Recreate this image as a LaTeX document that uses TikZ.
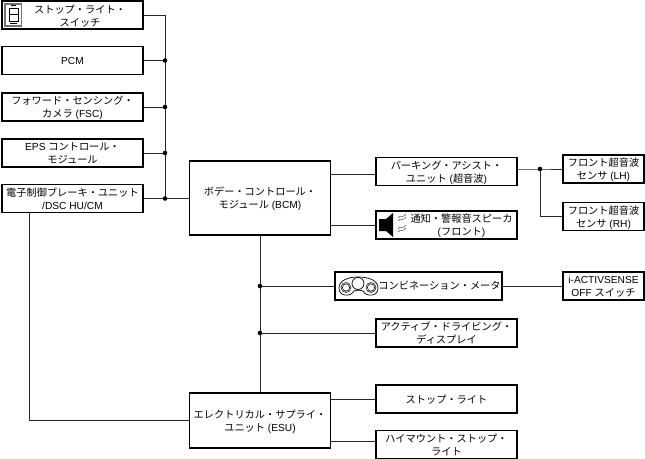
\documentclass[tikz,border=0pt]{standalone}
\usepackage{fontspec}
\setmainfont{Liberation Sans}
\newfontfamily\cjk{Noto Sans CJK JP}
\newcommand{\jp}[1]{{\cjk #1}}
\tikzset{
  unitbox/.style={
    draw=black,
    line width=1.05pt,
    fill=white,
    align=center,
    inner sep=0pt,
    text depth=0pt,
    minimum width=141pt,
    minimum height=28pt,
    font=\fontsize{10.2}{13}\selectfont,
  },
  sensorbox/.style={unitbox, minimum width=81pt},
  mainbox/.style={unitbox, minimum width=141pt},
  boxlabel/.style={align=center, inner sep=0pt, text depth=0pt, font=\fontsize{10.2}{13}\selectfont},
  wire/.style={line width=0.9pt, black!85},
  junction/.style={circle, fill=black, inner sep=0pt, minimum size=4.6pt},
  iconline/.style={line width=0.5pt, black},
}

\begin{document}
\begin{tikzpicture}[x=1pt, y=-1pt, line join=miter]
  \useasboundingbox (0,0) rectangle (645,458);

  \node[unitbox] (stopsw) at (72.5,15) {};
  \node[boxlabel] (stopswtext) at (80,15.5) {\jp{ストップ・ライト・}\\\jp{スイッチ}};
  \node[unitbox] (pcm) at (72.5,60.5) {PCM};
  \node[unitbox] (fsc) at (72.5,107) {\jp{フォワード・センシング・}\\\jp{カメラ} (FSC)};
  \node[unitbox] (eps) at (72.5,153) {EPS \jp{コントロール・}\\\jp{モジュール}};
  \node[unitbox] (ebcm) at (72.5,198.5) {\jp{電子制御ブレーキ・ユニット}\\/DSC HU/CM};
  \node[mainbox, minimum height=74pt] (bcm) at (260,198) {\jp{ボデー・コントロール・}\\\jp{モジュール} (BCM)};
  \node[unitbox] (park) at (446.5,171.5) {\jp{パーキング・アシスト・}\\\jp{ユニット} (\jp{超音波})};
  \node[unitbox] (spk) at (446.5,225) {};
  \node[boxlabel] (spktext) at (461.5,225) {\jp{通知・警報音スピーカ}\\(\jp{フロント})};
  \node[sensorbox] (lh) at (603.5,169) {\jp{フロント超音波}\\\jp{センサ} (LH)};
  \node[sensorbox] (rh) at (603.5,216.5) {\jp{フロント超音波}\\\jp{センサ} (RH)};
  \node[unitbox, minimum width=167pt] (combi) at (418.5,286) {};
  \node[boxlabel] (combitext) at (439.5,285.5) {\jp{コンビネーション・メータ}};
  \node[sensorbox] (iactiv) at (603.5,286) {i-ACTIVSENSE\\OFF \jp{スイッチ}};
  \node[unitbox] (adas) at (446.5,333) {\jp{アクティブ・ドライビング・}\\\jp{ディスプレイ}};
  \node[mainbox, minimum height=55pt] (esu) at (260,420.5) {\jp{エレクトリカル・サプライ・}\\\jp{ユニット} (ESU)};
  \node[unitbox] (stoplt) at (446.5,399) {\jp{ストップ・ライト}};
  \node[unitbox] (highlt) at (446.5,444.5) {\jp{ハイマウント・ストップ・}\\\jp{ライト}};

  \coordinate (jstop) at (165,15);
  \coordinate (jpcm) at (165,60.5);
  \coordinate (jfsc) at (165,107);
  \coordinate (jeps) at (165,153);
  \coordinate (jebcm) at (165,198.5);
  \coordinate (jcombi) at (260,286);
  \coordinate (jadas) at (260,333);
  \coordinate (jpark) at (540,169);
  \coordinate (jrh) at (540,216.5);
  \coordinate (bcmpark) at (376,174);
  \coordinate (esuhigh) at (376,441);
  \coordinate (ebcmesu) at (29.5,420.5);

  \draw[wire] (jstop) -- (jebcm);
  \draw[wire] (stopsw) -- (jstop);
  \draw[wire] (pcm) -- (jpcm);
  \draw[wire] (fsc) -- (jfsc);
  \draw[wire] (eps) -- (jeps);
  \draw[wire] (ebcm) -- (jebcm) -- (bcm.west |- jebcm);
  \draw[wire] (bcm) -- (esu);
  \draw[wire] (bcm.east |- bcmpark) -- (bcmpark);
  \draw[wire] (bcm.east |- spk) -- (spk);
  \draw[wire] (jcombi) -- (combi);
  \draw[wire] (combi) -- (iactiv);
  \draw[wire] (jadas) -- (adas);
  \draw[wire] (esu.east |- stoplt) -- (stoplt);
  \draw[wire] (esu.east |- esuhigh) -- (esuhigh);
  \draw[wire] (ebcm.south -| ebcmesu) -- (ebcmesu) -- (esu);
  \draw[wire] (park.east |- jpark) -- (jpark) -- (lh);
  \draw[wire] (jpark) -- (jrh) -- (rh);

  \foreach \j in {jpcm,jfsc,jeps,jebcm,jcombi,jadas,jpark} {
    \node[junction] (dot\j) at (\j) {};
  }

  \draw[black!55, line width=1.2pt] (5,4) rectangle (21.5,26);
  \draw[iconline] (9,8) rectangle (18,21) (9,14.5) -- (18,14.5);
  \draw[iconline] (11,5.5) -- (16,5.5) (10,23.5) -- (17,23.5);

  \fill[black] (379,219) -- (386,219) -- (393,213) -- (393,237) -- (386,231) -- (379,231) -- cycle;
  \foreach \y in {216,219,227,230} {
    \draw[iconline, black!70] (398,\y+2) .. controls (401,\y-2) and (402,\y+3) .. (406,\y-2);
  }

  \draw[iconline, line width=0.7pt] (339,288) .. controls (339,280) and (349,277) .. (358,277)
    .. controls (368,277) and (378,280) .. (378,288) .. controls (378,297) and (366,297) .. (363,291)
    .. controls (361,290) and (356,290) .. (354,291) .. controls (351,297) and (339,297) .. cycle;
  \draw[iconline] (346,287.5) circle (5) (346,287.5) circle (3.6);
  \draw[iconline] (371,287.5) circle (5) (371,287.5) circle (3.6);
  \draw[iconline, line width=0.7pt] (358,283.5) circle (6);
\end{tikzpicture}
\end{document}
